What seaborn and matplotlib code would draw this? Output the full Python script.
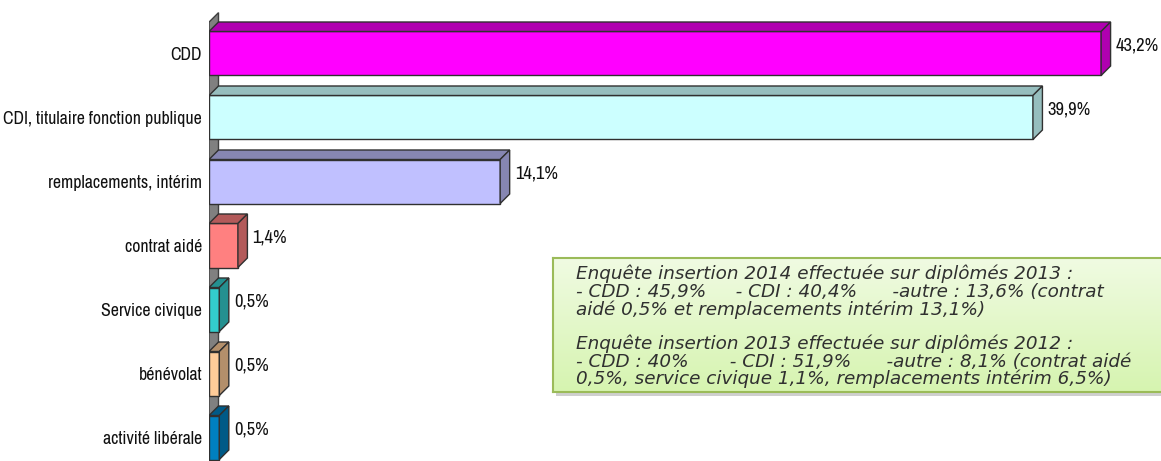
import numpy as np
import matplotlib
matplotlib.use("Agg")
import matplotlib.pyplot as plt
from matplotlib import font_manager
from matplotlib.patches import Polygon, Rectangle
from matplotlib.colors import LinearSegmentedColormap
import seaborn as sns

# data
categories = ["CDD", "CDI, titulaire fonction publique", "remplacements, intérim",
              "contrat aidé", "Service civique", "bénévolat", "activité libérale"]
values = [43.2, 39.9, 14.1, 1.4, 0.5, 0.5, 0.5]
value_labels = ["43,2%", "39,9%", "14,1%", "1,4%", "0,5%", "0,5%", "0,5%"]
front_colors = ["#FF00FF", "#CCFFFF", "#C0C0FF", "#FF8080", "#33CCCC", "#FFCC99", "#0080C0"]
side_colors = ["#B000B0", "#96BEBE", "#8686B2", "#B35A5A", "#249090", "#B38F6B", "#005A87"]

note_lines = [
    "Enquête insertion 2014 effectuée sur diplômés 2013 :",
    "- CDD : 45,9%     - CDI : 40,4%      -autre : 13,6% (contrat",
    "aidé 0,5% et remplacements intérim 13,1%)",
    "",
    "Enquête insertion 2013 effectuée sur diplômés 2012 :",
    "- CDD : 40%       - CDI : 51,9%      -autre : 8,1% (contrat aidé",
    "0,5%, service civique 1,1%, remplacements intérim 6,5%)",
]

sns.set_theme(style="white")

# look for a narrow face for the category labels
narrow_name = None
for f in font_manager.fontManager.ttflist:
    if ("Narrow" in f.name or "Condensed" in f.name) and f.style == "normal":
        narrow_name = f.name
        break
if narrow_name:
    narrow = [narrow_name, "DejaVu Sans"]
    lab_size = 12.8
else:
    narrow = ["Liberation Sans", "DejaVu Sans"]
    lab_size = 9.5
plt.rcParams["font.family"] = narrow

W, H = 1161, 461
fig = plt.figure(figsize=(W / 100, H / 100), dpi=100)
fig.patch.set_facecolor("white")

# bars start at x=209 px, 20.65 px per percent, 64 px per category
ax = fig.add_axes([209 / W, 0, (W - 209) / W, 1])
px_per_pct = 20.65
bar_h = 44 / 64
dx = 9.5 / px_per_pct
dy = 9.5 / 64

sns.barplot(x=values, y=categories, hue=categories, palette=front_colors,
            orient="h", width=bar_h, edgecolor="#303030", linewidth=1,
            legend=False, ax=ax, saturation=1, zorder=2)

ax.set_xlim(0, (W - 209) / px_per_pct)
ax.set_ylim((H - 53.5) / 64, -53.5 / 64)

# back wall
wall_top = -0.49
ax.add_patch(Polygon([(0, wall_top), (dx, wall_top - dy), (dx, 8), (0, 8)],
                     closed=True, facecolor="#808080", edgecolor="#404040",
                     linewidth=1, zorder=0.5))

for i, (v, sc) in enumerate(zip(values, side_colors)):
    top = i - bar_h / 2
    bot = i + bar_h / 2
    ax.add_patch(Polygon([(0, top), (v, top), (v + dx, top - dy), (dx, top - dy)],
                         closed=True, facecolor=sc, edgecolor="#303030",
                         linewidth=1, zorder=2))
    ax.add_patch(Polygon([(v, top), (v + dx, top - dy), (v + dx, bot - dy), (v, bot)],
                         closed=True, facecolor=sc, edgecolor="#303030",
                         linewidth=1, zorder=2))
    ax.text(v + dx + 0.25, i - dy + 0.02, value_labels[i], ha="left", va="center",
            fontsize=lab_size + 0.5, color="#111111", family=narrow)

for s in ax.spines.values():
    s.set_visible(False)
ax.set_xticks([])
ax.set_xlabel("")
ax.set_ylabel("")
ax.tick_params(axis="y", length=0, pad=5, labelsize=lab_size, labelcolor="#111111")
ax.set_facecolor("none")

# note box with green gradient and shadow
bx0, by0, by1 = 553, 258, 392
shadow = Rectangle(((bx0 + 3) / W, 1 - (by1 + 4) / H), (W - bx0) / W, (by1 - by0) / H,
                   transform=fig.transFigure, facecolor="#B0B0B0", edgecolor="none",
                   alpha=0.6, zorder=3)
fig.patches.append(shadow)
bax = fig.add_axes([bx0 / W, 1 - by1 / H, (W - bx0 + 20) / W, (by1 - by0) / H], zorder=4)
grad = np.linspace(0, 1, 100)[:, None] * np.ones((1, 10))
cmap = LinearSegmentedColormap.from_list("g", ["#F0FBE2", "#D6F4B0"])
bax.imshow(grad, aspect="auto", cmap=cmap, extent=[0, 1, 0, 1], origin="upper")
bax.set_xticks([])
bax.set_yticks([])
for s in bax.spines.values():
    s.set_color("#9BBB59")
    s.set_linewidth(1.5)

line_y = [274, 292, 310, None, 344, 362, 379]
for txt, y in zip(note_lines, line_y):
    if y is None:
        continue
    fig.text(576 / W, 1 - y / H, txt, ha="left", va="center", fontsize=13.2,
             style="italic", color="#303030", family=["DejaVu Sans"], zorder=5)

fig.savefig("out.png", dpi=100)
